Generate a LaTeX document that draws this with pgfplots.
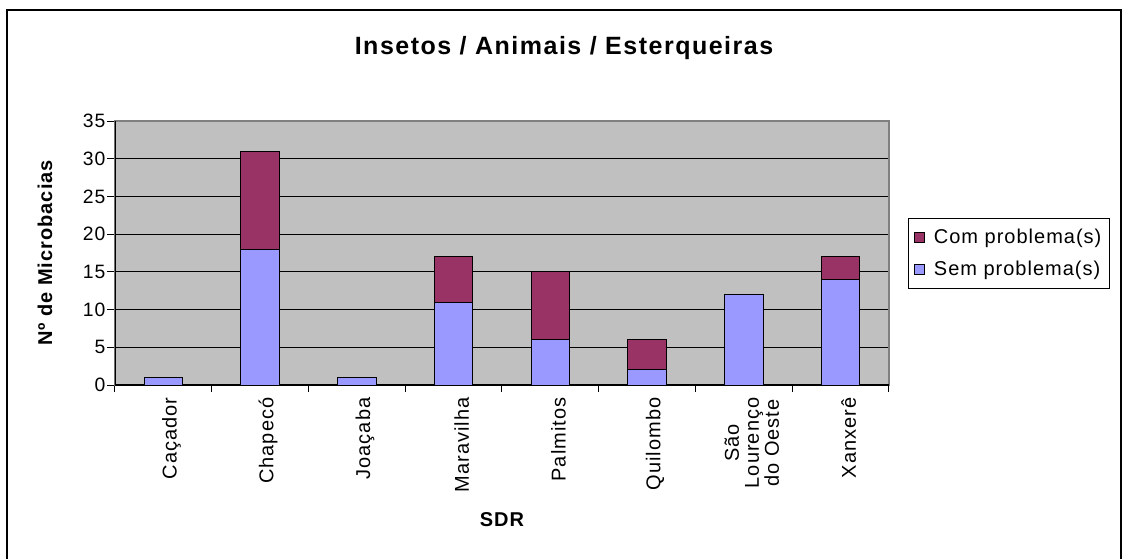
\documentclass[border=0pt]{standalone}
\usepackage{fontspec}
\setmainfont{Liberation Sans}
\newfontfamily\spaced[LetterSpace=5]{Liberation Sans}
\newfontfamily\spacedtitle[LetterSpace=6]{Liberation Sans}
\usepackage{pgfplots}
\pgfplotsset{compat=1.18}
\usepackage{pgfplotstable}

\definecolor{sem}{HTML}{9999FF}
\definecolor{com}{HTML}{993366}
\definecolor{plotbg}{HTML}{C0C0C0}
\definecolor{border}{HTML}{808080}

% SDR, sem problema(s), com problema(s)
\pgfplotstableread{
x sem com
0 1  0
1 18 13
2 1  0
3 11 6
4 6  9
5 2  4
6 12 0
7 14 3
}\dados

\begin{document}
\begin{tikzpicture}
\useasboundingbox (0,0) rectangle (841.5pt,-418.5pt);
% moldura externa
\draw[line width=1.5pt] (5.25pt,-420pt) -- (5.25pt,-7.5pt) -- (840.4pt,-7.5pt) -- (840.4pt,-420pt);
\begin{axis}[
    at={(86.25pt,-288.75pt)}, anchor=south west,
    scale only axis,
    width=580.5pt, height=198pt,
    ybar stacked,
    bar width=0.4,
    xmin=-0.5, xmax=7.5,
    ymin=0, ymax=35,
    xtick={0,...,7},
    xticklabels={Caçador,Chapecó,Joaçaba,Maravilha,Palmitos,Quilombo,{São\\Lourenço\\do Oeste},Xanxerê},
    minor xtick={-0.5,0.5,...,7.5},
    ytick={0,5,...,35},
    xtick pos=bottom, ytick pos=left,
    tick align=outside,
    major tick length=6pt,
    minor tick length=5.25pt,
    xtick style={draw=none},
    minor x tick style={black, line width=0.75pt, draw=black},
    ytick style={black, line width=0.75pt},
    ymajorgrids,
    major grid style={black, line width=0.6pt},
    axis background/.style={fill=plotbg},
    axis line style={draw=border, line width=1pt},
    /pgf/number format/assume math mode=true,
    yticklabel style={font=\spaced\fontsize{14.5}{17}\selectfont, inner sep=1pt},
    xticklabel style={font=\spaced\fontsize{15}{15}\selectfont, rotate=90, anchor=east, align=center, yshift=-6pt},
    xlabel={SDR},
    ylabel={Nº de Microbacias},
    xlabel style={font=\spaced\bfseries\fontsize{15}{18}\selectfont, at={(axis description cs:0.5,-0.511)}, anchor=center},
    ylabel style={font=\spaced\bfseries\fontsize{15}{18}\selectfont, at={(axis description cs:-0.0904,0.5)}, anchor=center},
    legend style={at={(axis description cs:1.0245,0.6326)}, anchor=north west,
        draw=black, line width=0.75pt, fill=white,
        font=\spaced\fontsize{15}{18}\selectfont,
        row sep=7.5pt, inner xsep=4pt, inner ysep=6pt,
        /tikz/every odd column/.append style={column sep=5pt}},
    legend cell align=left,
    reverse legend,
    legend image code/.code={\draw[#1, draw=black, line width=0.6pt] (0pt,-3.75pt) rectangle (7.5pt,3.75pt);},
]
\addplot[fill=sem, draw=black, line width=0.75pt] table[x=x, y=sem] {\dados};
\addlegendentry{Sem problema(s)}
\addplot[fill=com, draw=black, line width=0.75pt] table[x=x, y=com] {\dados};
\addlegendentry{Com problema(s)}
\draw[black, line width=1pt] (rel axis cs:0,1) -- (rel axis cs:0,0) -- (rel axis cs:1,0);
\end{axis}
\node[font=\spacedtitle\bfseries\fontsize{18.75}{22}\selectfont] at (423pt,-36pt) {Insetos / Animais / Esterqueiras};
\end{tikzpicture}
\end{document}
